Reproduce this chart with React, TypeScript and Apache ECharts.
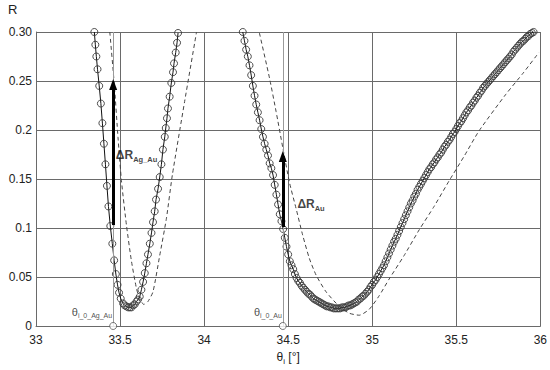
import React, { useEffect, useRef } from "react";
import * as echarts from "echarts";

// Measured reflectance, Ag/Au layer (circles + fitted solid line)
const agAuTheta = [33.347, 33.353, 33.359, 33.366, 33.376, 33.386, 33.395, 33.404, 33.413, 33.422, 33.431, 33.442, 33.454, 33.465, 33.475, 33.485, 33.494, 33.504, 33.518, 33.528, 33.538, 33.548, 33.558, 33.568, 33.577, 33.587, 33.598, 33.607, 33.617, 33.627, 33.637, 33.647, 33.657, 33.666, 33.677, 33.687, 33.696, 33.706, 33.714, 33.726, 33.736, 33.746, 33.755, 33.766, 33.772, 33.779, 33.785, 33.795, 33.805, 33.815, 33.821, 33.831, 33.839, 33.845];
const agAuR = [0.300, 0.287, 0.275, 0.262, 0.245, 0.227, 0.207, 0.186, 0.165, 0.143, 0.122, 0.102, 0.084, 0.067, 0.053, 0.042, 0.034, 0.028, 0.023, 0.021, 0.020, 0.019, 0.019, 0.019, 0.021, 0.022, 0.025, 0.027, 0.030, 0.037, 0.045, 0.054, 0.064, 0.073, 0.084, 0.095, 0.106, 0.117, 0.129, 0.140, 0.152, 0.165, 0.180, 0.193, 0.202, 0.212, 0.222, 0.234, 0.248, 0.259, 0.268, 0.279, 0.289, 0.299];

// Reference curve (dashed), Ag/Au
const agAuRefTheta = [33.439, 33.466, 33.488, 33.509, 33.538, 33.568, 33.598, 33.617, 33.641, 33.666, 33.696, 33.736, 33.776, 33.811, 33.884, 33.955];
const agAuRefR = [0.300, 0.246, 0.192, 0.147, 0.103, 0.066, 0.038, 0.028, 0.022, 0.025, 0.035, 0.072, 0.110, 0.154, 0.229, 0.300];

// Measured reflectance, Au layer
const auTheta = [
  34.23, 34.24, 34.25, 34.26, 34.27, 34.28, 34.29, 34.30, 34.31, 34.32, 34.33, 34.34, 34.35, 34.36, 34.37, 34.38, 34.39, 34.40, 34.41, 34.42, 34.43, 34.44, 34.45, 34.46, 34.47, 34.48, 34.49, 34.50,
  34.51, 34.52, 34.53, 34.54, 34.55, 34.56, 34.57, 34.58, 34.59, 34.60, 34.61, 34.62, 34.63, 34.64, 34.65, 34.66, 34.67, 34.68, 34.69, 34.70, 34.71, 34.72, 34.73, 34.74, 34.75, 34.76, 34.77, 34.78,
  34.79, 34.80, 34.81, 34.82, 34.83, 34.84, 34.85, 34.86, 34.87, 34.88, 34.89, 34.90, 34.91, 34.92, 34.93, 34.94, 34.95, 34.96, 34.97, 34.98, 34.99,
  35.00, 35.01, 35.02, 35.03, 35.04, 35.05, 35.06, 35.07, 35.08, 35.09, 35.10, 35.11, 35.12, 35.13, 35.14, 35.15, 35.16, 35.17, 35.18, 35.19,
  35.20, 35.21, 35.22, 35.23, 35.24, 35.25, 35.26, 35.27, 35.28, 35.29, 35.30, 35.31, 35.32, 35.33, 35.34, 35.35, 35.36, 35.37, 35.38, 35.39,
  35.40, 35.41, 35.42, 35.43, 35.44, 35.45, 35.46, 35.47, 35.48, 35.49, 35.50, 35.51, 35.52, 35.53, 35.54, 35.55, 35.56, 35.57, 35.58, 35.59,
  35.60, 35.61, 35.62, 35.63, 35.64, 35.65, 35.66, 35.67, 35.68, 35.69, 35.70, 35.71, 35.72, 35.73, 35.74, 35.75, 35.76, 35.77, 35.78, 35.79,
  35.80, 35.81, 35.82, 35.83, 35.84, 35.85, 35.86, 35.87, 35.88, 35.89, 35.90, 35.91, 35.92, 35.93, 35.94, 35.95, 35.96
];
const auR = [
  0.300, 0.291, 0.282, 0.275, 0.266, 0.256, 0.245, 0.235, 0.226, 0.218, 0.210, 0.201, 0.193, 0.186, 0.180, 0.174, 0.166, 0.161, 0.154, 0.144, 0.134, 0.124, 0.114, 0.107, 0.099, 0.090, 0.081, 0.073,
  0.066, 0.062, 0.058, 0.053, 0.049, 0.046, 0.044, 0.041, 0.039, 0.037, 0.035, 0.033, 0.032, 0.030, 0.028, 0.027, 0.026, 0.025, 0.024, 0.023, 0.022, 0.021, 0.020, 0.020, 0.019, 0.019, 0.018, 0.018,
  0.018, 0.018, 0.018, 0.019, 0.019, 0.019, 0.020, 0.021, 0.021, 0.022, 0.023, 0.024, 0.025, 0.027, 0.028, 0.030, 0.031, 0.033, 0.035, 0.037, 0.040,
  0.042, 0.045, 0.047, 0.050, 0.053, 0.056, 0.059, 0.062, 0.066, 0.070, 0.074, 0.078, 0.082, 0.086, 0.089, 0.093, 0.097, 0.101, 0.105, 0.109,
  0.113, 0.117, 0.121, 0.125, 0.128, 0.132, 0.135, 0.139, 0.142, 0.145, 0.148, 0.151, 0.154, 0.157, 0.160, 0.162, 0.165, 0.167, 0.170, 0.172,
  0.175, 0.177, 0.180, 0.183, 0.185, 0.188, 0.190, 0.193, 0.196, 0.198, 0.201, 0.204, 0.207, 0.209, 0.212, 0.215, 0.218, 0.220, 0.223, 0.225,
  0.228, 0.230, 0.233, 0.235, 0.238, 0.240, 0.243, 0.245, 0.247, 0.249, 0.251, 0.253, 0.255, 0.257, 0.259, 0.261, 0.263, 0.265, 0.267, 0.269,
  0.271, 0.273, 0.275, 0.277, 0.280, 0.282, 0.284, 0.286, 0.288, 0.290, 0.291, 0.293, 0.295, 0.296, 0.298, 0.299, 0.300
];

// Reference curve (dashed), Au
const auRefTheta = [34.329, 34.389, 34.428, 34.468, 34.507, 34.547, 34.586, 34.626, 34.666, 34.725, 34.804, 34.864, 34.923, 34.982, 35.042, 35.101, 35.190, 35.279, 35.368, 35.457, 35.546, 35.635, 35.793, 35.902, 35.991];
const auRefR = [0.299, 0.253, 0.219, 0.182, 0.147, 0.120, 0.093, 0.069, 0.052, 0.035, 0.020, 0.013, 0.011, 0.017, 0.031, 0.048, 0.072, 0.098, 0.122, 0.148, 0.173, 0.199, 0.236, 0.259, 0.279];

// Annotations
const theta0AgAu = 33.459;
const theta0Au = 34.468;
const deltaAgAu = [0.103, 0.2465];
const deltaAu = [0.101, 0.173];
const labelAgAuAnchor = [33.475, 0.181];
const labelAuAnchor = [34.555, 0.131];

const yTickLabels: Record<number, string> = { 0: "0", 5: "0.05", 10: "0.1", 15: "0.15", 20: "0.2", 25: "0.25", 30: "0.30" };

const FONT = '"Liberation Sans", Arial, sans-serif';
const TXT = "#222";
const zip = (xs: number[], ys: number[]) => xs.map((x, i) => [x, ys[i]]);

export default function App() {
  const ref = useRef<HTMLDivElement>(null);
  useEffect(() => {
    if (!ref.current) return;
    const chart = echarts.init(ref.current, null, { renderer: "svg" });
    const gridLine = { show: true, lineStyle: { color: "#6a6a6a", width: 1 } };
    const subRich = {
      t: { fontSize: 11, fontFamily: FONT, color: TXT, verticalAlign: "top", lineHeight: 13 },
      s: { fontSize: 7, fontFamily: FONT, color: TXT, verticalAlign: "top", lineHeight: 8, padding: [6, 0, 0, 0] },
    };
    const deltaRich = {
      a: { fontSize: 12, fontWeight: "bold", fontFamily: FONT, color: "#111", verticalAlign: "top", lineHeight: 14 },
      b: { fontSize: 7.5, fontWeight: "bold", fontFamily: FONT, color: "#111", verticalAlign: "top", lineHeight: 9, padding: [7, 0, 0, 0] },
    };
    const thetaLabel = (fmt: string) => ({
      show: true,
      formatter: fmt,
      position: [3, -3],
      align: "right",
      verticalAlign: "bottom",
      color: TXT,
      textBorderWidth: 0,
      rich: subRich,
    });
    const option: any = {
      animation: false,
      backgroundColor: "#fff",
      textStyle: { fontFamily: FONT },
      grid: { left: 36, right: 8, top: 32, bottom: 44 },
      xAxis: {
        type: "value",
        min: 33,
        max: 36,
        interval: 0.5,
        axisLine: { show: true, lineStyle: { color: "#6a6a6a", width: 1 } },
        axisTick: { show: false },
        axisLabel: { color: TXT, fontSize: 12, fontFamily: FONT, margin: 8, formatter: (v: number) => String(v) },
        splitLine: gridLine,
        name: "{t|θ}{s|i}{t| [°]}",
        nameLocation: "middle",
        nameGap: 25,
        nameTextStyle: {
          color: TXT,
          rich: {
            t: { fontSize: 12, fontFamily: FONT, color: TXT, verticalAlign: "top", lineHeight: 14 },
            s: { fontSize: 8, fontFamily: FONT, color: TXT, verticalAlign: "top", lineHeight: 9, padding: [6, 0, 0, 0] },
          },
        },
      },
      yAxis: {
        type: "value",
        min: 0,
        max: 0.3,
        interval: 0.05,
        axisLine: { show: true, lineStyle: { color: "#6a6a6a", width: 1 } },
        axisTick: { show: false },
        axisLabel: {
          color: TXT,
          fontSize: 12,
          fontFamily: FONT,
          margin: 4,
          formatter: (v: number) => yTickLabels[Math.round(v * 100)] ?? "",
        },
        splitLine: gridLine,
      },
      graphic: [
        { type: "text", left: 8, top: 3, style: { text: "R", fontSize: 13, fontFamily: FONT, fill: TXT } },
      ],
      series: [
        {
          type: "line",
          data: zip(agAuRefTheta, agAuRefR),
          symbol: "none",
          smooth: 0.2,
          lineStyle: { color: "#444", width: 1, type: [4, 3] },
          z: 2,
          silent: true,
        },
        {
          type: "line",
          data: zip(auRefTheta, auRefR),
          symbol: "none",
          smooth: 0.2,
          lineStyle: { color: "#444", width: 1, type: [4, 3] },
          z: 2,
          silent: true,
        },
        {
          type: "scatter",
          data: [
            { value: [theta0AgAu, 0], label: thetaLabel("{t|θ}{s|i_0_Ag_Au}") },
            { value: [theta0Au, 0], label: thetaLabel("{t|θ}{s|i_0_Au}") },
          ],
          symbol: "circle",
          symbolSize: 7,
          itemStyle: { color: "#fff", borderColor: "#555", borderWidth: 1 },
          z: 6,
          clip: false,
          silent: true,
          markLine: {
            silent: true,
            symbol: "none",
            label: { show: false },
            lineStyle: { color: "#9a9a9a", width: 1, type: "solid" },
            data: [{ xAxis: theta0AgAu }, { xAxis: theta0Au }],
          },
        },
        {
          type: "line",
          data: zip(agAuTheta, agAuR),
          symbol: "circle",
          symbolSize: 7,
          showAllSymbol: true,
          itemStyle: { color: "rgba(0,0,0,0)", borderColor: "#3a3a3a", borderWidth: 0.9 },
          lineStyle: { color: "#111", width: 1 },
          z: 4,
          silent: true,
        },
        {
          type: "line",
          data: zip(auTheta, auR),
          symbol: "circle",
          symbolSize: 7,
          showAllSymbol: true,
          itemStyle: { color: "rgba(0,0,0,0)", borderColor: "#3a3a3a", borderWidth: 0.9 },
          lineStyle: { color: "#111", width: 1 },
          z: 4,
          silent: true,
        },
        {
          type: "scatter",
          data: [],
          z: 7,
          silent: true,
          markLine: {
            silent: true,
            symbol: ["none", "triangle"],
            symbolSize: [8, 11],
            label: { show: false },
            lineStyle: { color: "#000", width: 3, type: "solid" },
            itemStyle: { color: "#000" },
            data: [
              [{ coord: [theta0AgAu, deltaAgAu[0]] }, { coord: [theta0AgAu, deltaAgAu[1]] }],
              [{ coord: [theta0Au, deltaAu[0]] }, { coord: [theta0Au, deltaAu[1]] }],
            ],
          },
        },
        {
          type: "scatter",
          symbolSize: 0,
          z: 8,
          silent: true,
          data: [
            { value: labelAgAuAnchor, label: { show: true, position: [0, 0], color: "#111", formatter: "{a|ΔR}{b|Ag_Au}", rich: deltaRich } },
            { value: labelAuAnchor, label: { show: true, position: [0, 0], color: "#111", formatter: "{a|ΔR}{b|Au}", rich: deltaRich } },
          ],
        },
      ],
    };
    chart.setOption(option);
    return () => chart.dispose();
  }, []);
  return <div ref={ref} style={{ position: "fixed", left: 0, top: 0, width: 550, height: 370, background: "#fff" }} />;
}
